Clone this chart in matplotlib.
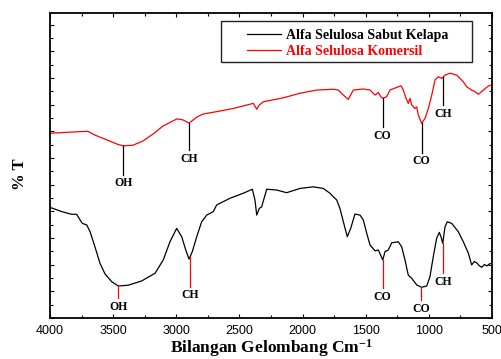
"""FTIR overlay: alfa selulosa from coconut husk vs commercial alfa selulosa."""

import matplotlib
matplotlib.use("Agg")
import matplotlib.pyplot as plt
from matplotlib.patches import Rectangle
from matplotlib.ticker import MultipleLocator, NullFormatter
import numpy as np

SERIF = "Liberation Serif"
SANS = "Liberation Sans"

# --- spectra: wavenumber (cm-1), %T (arbitrary units) ---
kelapa_wn = [4000, 3907, 3828, 3789, 3762, 3744, 3709, 3683, 3644, 3604,
             3564, 3511, 3459, 3380, 3274, 3168, 3103, 3050, 2997, 2957,
             2925, 2899, 2873, 2838, 2799, 2759, 2707, 2680, 2575, 2469,
             2398, 2377, 2363, 2343, 2324, 2284, 2205, 2126, 2020, 1915,
             1836, 1783, 1757, 1730, 1704, 1677, 1646, 1619, 1585, 1545,
             1519, 1492, 1466, 1426, 1400, 1365, 1347, 1321, 1294, 1242,
             1215, 1189, 1163, 1136, 1096, 1057, 1017, 991, 965, 938,
             917, 904, 890, 872, 854, 819, 767, 727, 687, 661,
             640, 621, 600, 581, 560, 542, 520, 502]
kelapa_t = [41.5, 39.9, 38.9, 38.9, 36.8, 35.5, 34.9, 32.4, 26.7, 20.5,
            16.5, 13.6, 12.0, 12.3, 13.9, 16.8, 21.8, 28.6, 33.6, 30.5,
            25.5, 22.1, 24.9, 30.5, 36.1, 38.6, 39.9, 42.4, 44.9, 46.8,
            48.3, 44.3, 38.6, 41.1, 41.7, 48.3, 48.0, 47.0, 48.6, 49.2,
            48.6, 46.8, 45.5, 44.3, 41.1, 36.1, 30.5, 33.6, 39.0, 38.6,
            36.8, 31.8, 27.4, 25.2, 25.5, 21.8, 24.9, 25.5, 28.2, 28.6,
            26.7, 21.8, 16.1, 14.9, 12.4, 11.5, 12.0, 15.5, 23.0, 29.9,
            32.1, 30.5, 28.0, 34.2, 36.1, 35.5, 32.4, 28.6, 24.3, 19.9,
            21.2, 20.7, 19.6, 19.0, 20.1, 19.5, 20.3, 20.5]

komersil_wn = [4000, 3762, 3699, 3644, 3549, 3462, 3422, 3343, 3264, 3184,
               3105, 2994, 2947, 2899, 2836, 2788, 2680, 2548, 2390, 2363,
               2343, 2311, 2152, 2020, 1888, 1757, 1717, 1677, 1638, 1598,
               1519, 1466, 1426, 1400, 1381, 1365, 1334, 1308, 1254, 1220,
               1202, 1181, 1163, 1149, 1136, 1110, 1096, 1083, 1057, 1030,
               1004, 977, 951, 925, 898, 872, 832, 779, 727, 700,
               661, 634, 608, 568, 529, 502]
komersil_t = [69.3, 69.9, 70.0, 68.6, 66.8, 65.1, 64.6, 64.8, 66.4, 69.0,
              72.0, 74.7, 74.3, 73.1, 75.4, 76.5, 77.4, 78.6, 80.5, 78.3,
              79.9, 81.1, 82.6, 84.3, 85.5, 85.8, 85.5, 83.6, 82.0, 85.5,
              85.9, 85.5, 83.6, 84.6, 83.0, 82.4, 83.0, 85.5, 86.5, 87.1,
              85.5, 82.4, 80.5, 82.4, 79.9, 78.6, 79.2, 76.1, 73.0, 74.9,
              78.6, 83.6, 89.3, 90.5, 89.9, 91.1, 91.8, 91.1, 88.6, 86.7,
              85.5, 84.9, 83.9, 85.5, 87.0, 87.4]

# --- band assignments: label, wavenumber, marker line length ---
kelapa_bands = ["OH", "CH", "CO", "CO", "CH"]
kelapa_band_wn = [3459, 2893, 1365, 1060, 890]
kelapa_band_len = [4.6, 11.0, 10.7, 5.0, 11.2]

komersil_bands = ["OH", "CH", "CO", "CO", "CH"]
komersil_band_wn = [3420, 2899, 1365, 1057, 890]
komersil_band_len = [10.8, 10.2, 10.7, 11.0, 10.4]


def mark_bands(ax, wn, t, labels, positions, lengths, color):
    for label, x, length in zip(labels, positions, lengths):
        tip = np.interp(x, wn[::-1], t[::-1])
        ax.plot([x, x], [tip, tip - length], color=color, lw=0.9)
        ax.annotate(label, xy=(x, tip - length), xytext=(0, -2),
                    textcoords="offset points", ha="center", va="top",
                    fontsize=8.5, fontweight="bold", family=SERIF)


plt.rcParams["mathtext.fontset"] = "custom"
plt.rcParams["mathtext.rm"] = f"{SERIF}:bold"
plt.rcParams["mathtext.it"] = f"{SERIF}:bold"
plt.rcParams["mathtext.bf"] = f"{SERIF}:bold"

fig = plt.figure(figsize=(5.01, 3.59), dpi=100)
ax = fig.add_axes([0.0998, 0.1142, 0.8822, 0.8496])

ax.plot(kelapa_wn, kelapa_t, color="black", lw=0.9,
        label="Alfa Selulosa Sabut Kelapa")
ax.plot(komersil_wn, komersil_t, color="#ff0000", lw=0.9,
        label="Alfa Selulosa Komersil")

mark_bands(ax, kelapa_wn, kelapa_t, kelapa_bands, kelapa_band_wn,
           kelapa_band_len, "#ff0000")
mark_bands(ax, komersil_wn, komersil_t, komersil_bands, komersil_band_wn,
           komersil_band_len, "black")

ax.set_xlim(4000, 500)
ax.set_ylim(0, 114.4)
ax.xaxis.set_major_locator(MultipleLocator(500))
ax.xaxis.set_minor_locator(MultipleLocator(250))
ax.yaxis.set_major_locator(MultipleLocator(10))
ax.yaxis.set_minor_locator(MultipleLocator(5))
ax.yaxis.set_major_formatter(NullFormatter())
ax.tick_params(which="both", direction="in", top=True, right=True, width=0.8)
ax.tick_params(which="major", length=3)
ax.tick_params(which="minor", length=2)
ax.tick_params(axis="x", pad=5, labelsize=9)
for lab in ax.get_xticklabels():
    lab.set_family(SANS)
for sp in ax.spines.values():
    sp.set_linewidth(1.3)

ax.set_xlabel("Bilangan Gelombang Cm$^{-1}$", family=SERIF, fontsize=12.5,
              fontweight="bold", labelpad=0)
ax.set_ylabel("% T", family=SERIF, fontsize=12, fontweight="bold")
ax.yaxis.set_label_coords(-0.05, 0.47)

leg = ax.legend(loc="upper left", bbox_to_anchor=(0.445, 0.948),
                frameon=False, borderpad=0, borderaxespad=0,
                handlelength=2.5, handletextpad=0.3, labelspacing=0.25,
                labelcolor="linecolor",
                prop={"family": SERIF, "weight": "bold", "size": 10})
ax.add_patch(Rectangle((0.387, 0.840), 0.568, 0.134, transform=ax.transAxes,
                       fill=False, edgecolor="#222222", lw=1.0, zorder=5))

fig.savefig("out.png", dpi=100)
